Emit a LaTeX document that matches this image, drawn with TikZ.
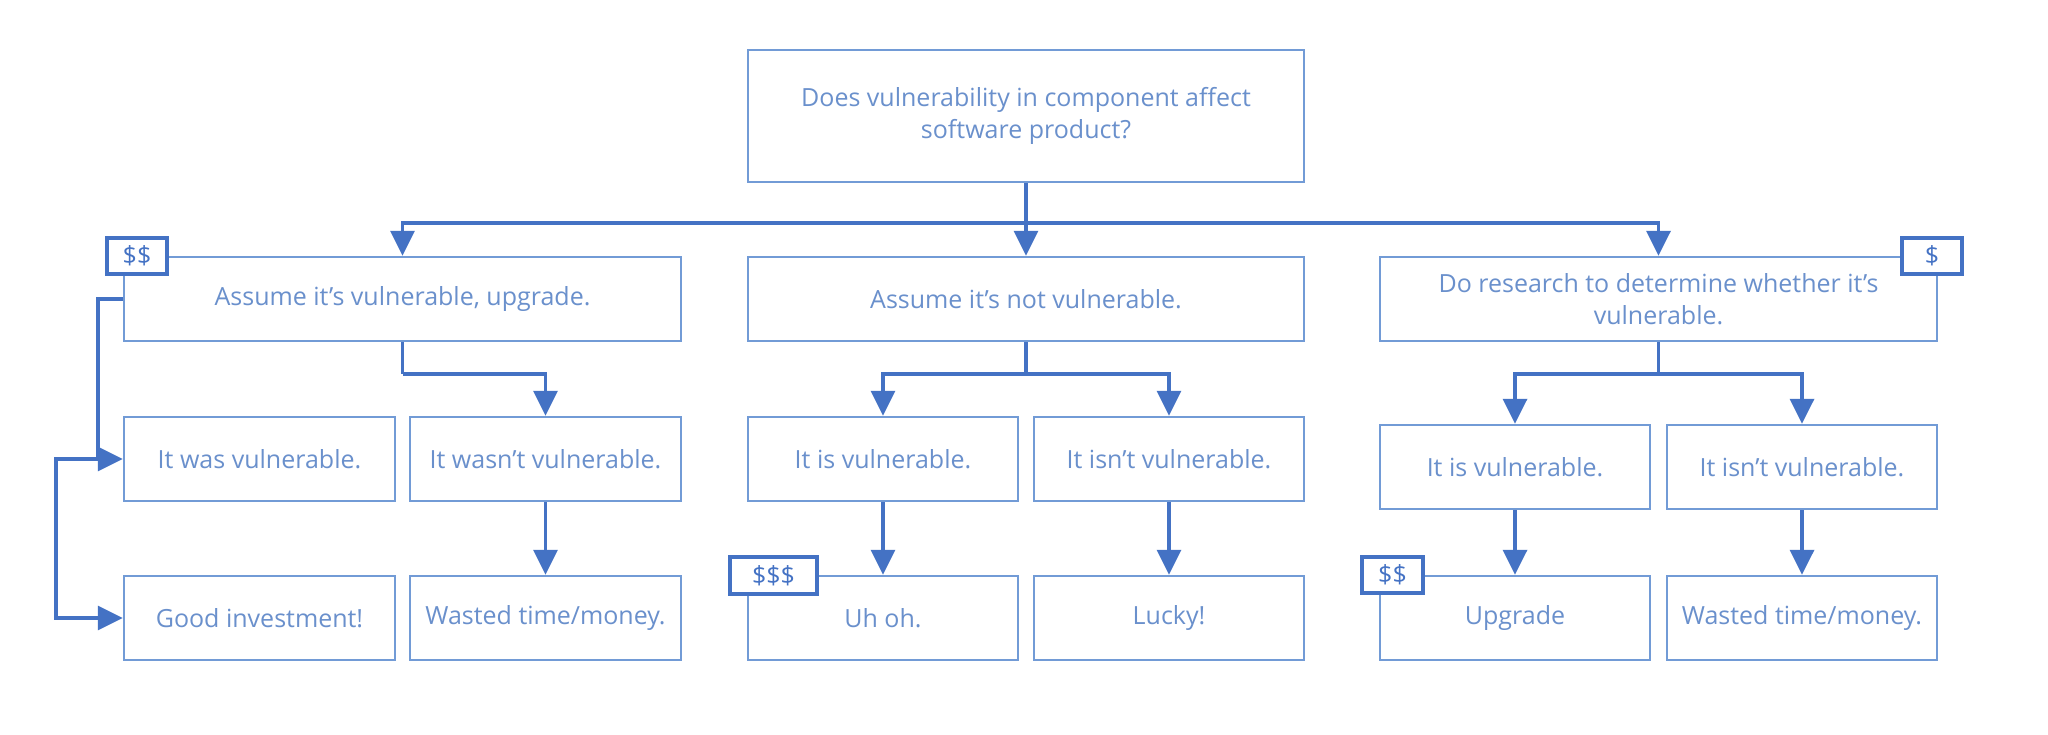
\documentclass[tikz,border=0pt]{standalone}
\usepackage{fontspec}
\setmainfont{Open Sans}
\usetikzlibrary{arrows.meta}
\definecolor{linec}{HTML}{4472C4}
\definecolor{boxc}{HTML}{729BD6}
\definecolor{textc}{HTML}{6A90CC}
\tikzset{
  box/.style={draw=boxc, line width=2.5pt, fill=white, inner sep=0pt, text=textc, align=center, font=\fontsize{25}{32}\selectfont},
  badge/.style={draw=linec, line width=4pt, fill=white, inner sep=0pt, text=linec, font=\fontsize{25}{28}\selectfont},
  conn/.style={draw=linec, line width=3.5pt, -{Triangle[length=25pt,width=24pt]}},
  plain/.style={draw=linec, line width=3.5pt}
}
\begin{document}
\begin{tikzpicture}[x=1pt,y=-1pt]
\fill[white] (0,0) rectangle (2048,734);
\useasboundingbox (0,0) rectangle (2048,734);
% boxes
\node[box, minimum width=556pt, minimum height=132pt] (top) at (1026,116) {Does vulnerability in component affect\\software product?};
\node[box, minimum width=557pt, minimum height=84pt] (A) at (402.5,299) {Assume it’s vulnerable, upgrade.};
\node[box, minimum width=556pt, minimum height=84pt] (B) at (1026,299) {Assume it’s not vulnerable.};
\node[box, minimum width=557pt, minimum height=84pt] (C) at (1658.5,299) {Do research to determine whether it’s\\vulnerable.};
\node[box, minimum width=271pt, minimum height=84pt] (was) at (259.5,459) {It was vulnerable.};
\node[box, minimum width=271pt, minimum height=84pt] (wasnt) at (545.5,459) {It wasn’t vulnerable.};
\node[box, minimum width=270pt, minimum height=84pt] (mis) at (883,459) {It is vulnerable.};
\node[box, minimum width=270pt, minimum height=84pt] (misnt) at (1169,459) {It isn’t vulnerable.};
\node[box, minimum width=270pt, minimum height=84pt] (ris) at (1515,467) {It is vulnerable.};
\node[box, minimum width=270pt, minimum height=84pt] (risnt) at (1802,467) {It isn’t vulnerable.};
\node[box, minimum width=271pt, minimum height=84pt] (good) at (259.5,618) {Good investment!};
\node[box, minimum width=271pt, minimum height=84pt] (wasted1) at (545.5,618) {Wasted time/money.};
\node[box, minimum width=270pt, minimum height=84pt] (uhoh) at (883,618) {Uh oh.};
\node[box, minimum width=270pt, minimum height=84pt] (lucky) at (1169,618) {Lucky!};
\node[box, minimum width=270pt, minimum height=84pt] (upg) at (1515,618) {Upgrade};
\node[box, minimum width=270pt, minimum height=84pt] (wasted2) at (1802,618) {Wasted time/money.};
% badges
\node[badge, minimum width=60pt, minimum height=36pt] (b1) at (137,256) {\$\$};
\node[badge, minimum width=60pt, minimum height=36pt] (b2) at (1932,256) {\$};
\node[badge, minimum width=87pt, minimum height=37pt] (b3) at (773.5,575.5) {\$\$\$};
\node[badge, minimum width=61pt, minimum height=36pt] (b4) at (1392.5,575) {\$\$};
% connectors
\coordinate (bus) at (1026,223);
\draw[conn] (top.south) -- (B.north);
\draw[conn] (bus) -| (A.north);
\draw[conn] (bus) -| (C.north);
\coordinate (sa) at (402.5,374);
\coordinate (sb) at (1026,374);
\coordinate (sc) at (1658.5,374);
\draw[plain] (A.south) -- (sa);
\draw[conn] (sa) -| (wasnt.north);
\draw[plain] (B.south) -- (sb);
\draw[conn] (sb) -| (mis.north);
\draw[conn] (sb) -| (misnt.north);
\draw[plain] (C.south) -- (sc);
\draw[conn] (sc) -| (ris.north);
\draw[conn] (sc) -| (risnt.north);
\draw[conn] (wasnt.south) -- (wasted1.north);
\draw[conn] (mis.south) -- (uhoh.north);
\draw[conn] (misnt.south) -- (lucky.north);
\draw[conn] (ris.south) -- (upg.north);
\draw[conn] (risnt.south) -- (wasted2.north);
\coordinate (lp) at (98,459);
\coordinate (lp2) at (56,459);
\draw[conn] (A.west) -| (lp) -- (was.west);
\draw[conn] (lp) -- (lp2) |- (good.west);
\end{tikzpicture}
\end{document}
